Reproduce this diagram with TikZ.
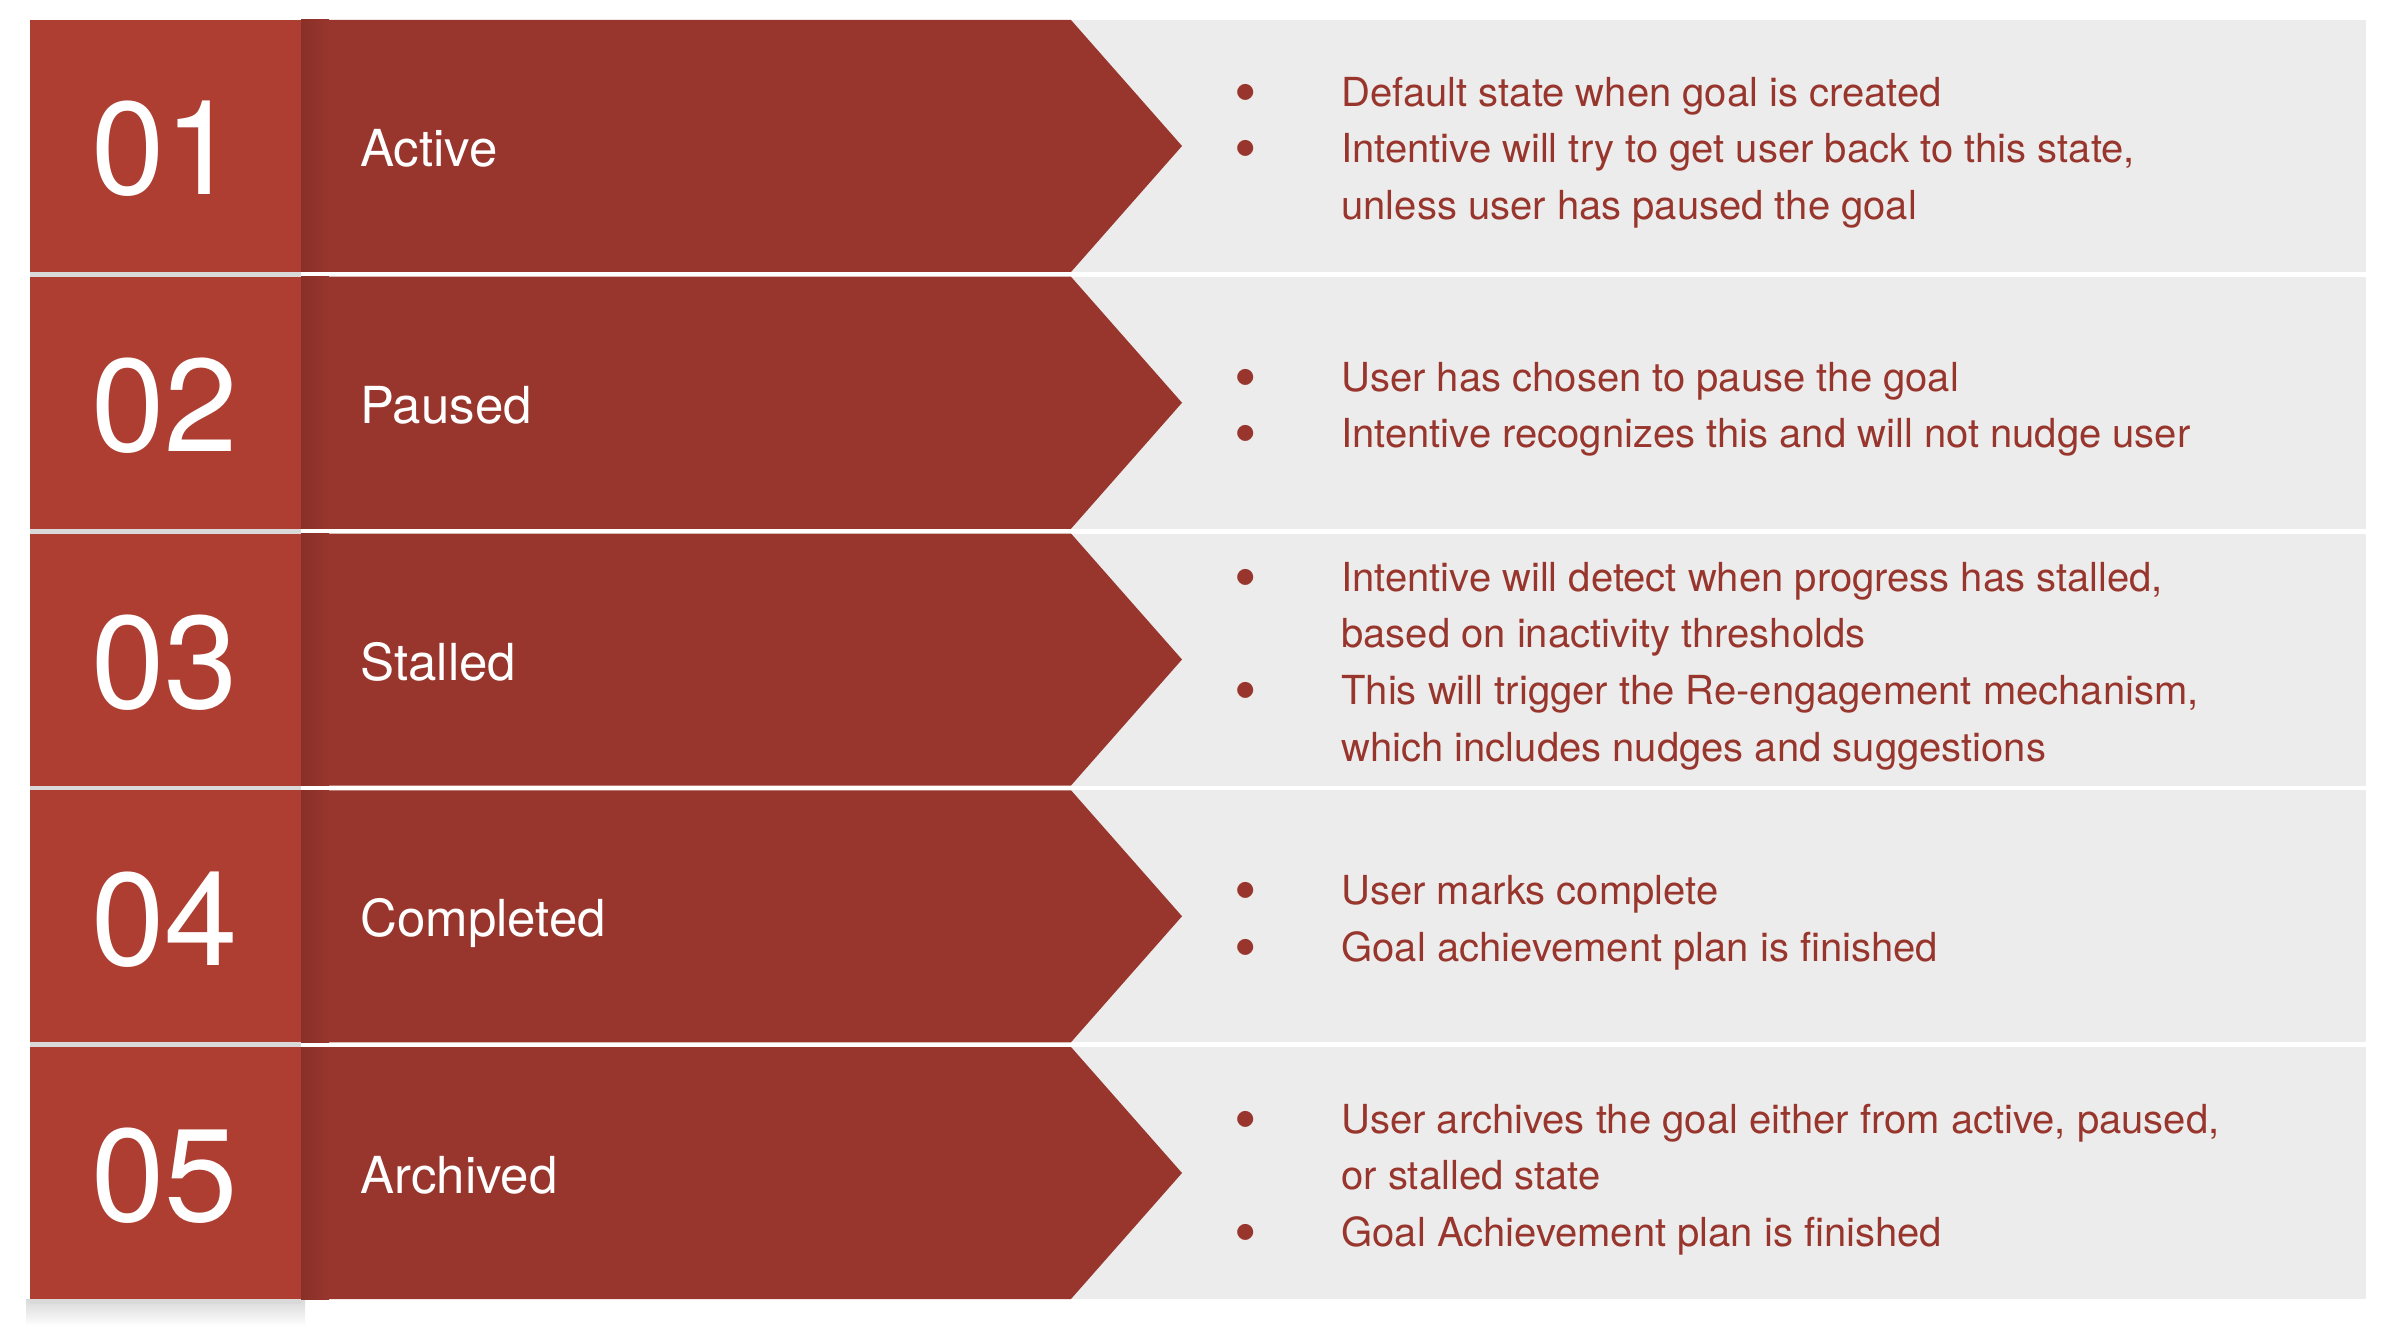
\documentclass[tikz,border=0pt]{standalone}
\usepackage{fontspec}
\setmainfont{TeX Gyre Heros}
\definecolor{numred}{RGB}{173,62,49}
\definecolor{chevred}{RGB}{152,54,45}
\definecolor{chevdark}{RGB}{136,48,40}
\definecolor{panel}{RGB}{236,236,236}
\newcommand\itm{\makebox[53.5pt][l]{\smash{\raisebox{-4pt}{\fontsize{32}{28}\selectfont\textbullet}}}}

\begin{document}
\begin{tikzpicture}[x=0.5pt,y=-0.5pt,
    numtext/.style={text=white,inner sep=0pt,font=\fontsize{66}{66}\selectfont},
    labtext/.style={text=white,inner sep=0pt,font=\fontsize{25.5}{30}\selectfont},
    desctext/.style={text=chevred,inner sep=0pt,font=\fontsize{20}{28.35}\selectfont}]
    \fill [white] (0,0) rectangle (2388,1326);
    \shade [top color=black!15,bottom color=white] (26,1299) rectangle (305,1326);

    \foreach \nr/\lab [count=\i from 0] in {01/Active,02/Paused,03/Stalled,04/Completed,05/Archived}{
        \pgfmathsetmacro\rowtop{20+256.75*\i}
        \fill [black!15] (30,\rowtop+252) rectangle ++(271,4.75);
        \fill [panel] (1071,\rowtop) rectangle ++(1295,252);
        \fill [numred] (30,\rowtop) rectangle ++(271,252);
        \fill [chevred] (301,\rowtop) -- ++(770,0) -- ++(111,126) -- ++(-111,126) -- ++(-770,0) -- cycle;
        \shade [left color=chevdark,right color=chevred] (301,\rowtop) rectangle ++(28,252);
        \node [numtext,anchor=west] (num\nr) at (91,\rowtop+129) {\nr};
        \node [labtext,anchor=base west] (lab\nr) at (360,\rowtop+146.7) {\lab};
    }

    \node [desctext,anchor=west] (desc01) at (1234,151.5) {\begin{tabular}{@{}l@{}l@{}}
        \itm & Default state when goal is created\\
        \itm & Intentive will try to get user back to this state,\\
             & unless user has paused the goal
    \end{tabular}};
    \node [desctext,anchor=west] (desc02) at (1234,408.25) {\begin{tabular}{@{}l@{}l@{}}
        \itm & User has chosen to pause the goal\\
        \itm & Intentive recognizes this and will not nudge user
    \end{tabular}};
    \node [desctext,anchor=west] (desc03) at (1234,665) {\begin{tabular}{@{}l@{}l@{}}
        \itm & Intentive will detect when progress has stalled,\\
             & based on inactivity thresholds\\
        \itm & This will trigger the Re-engagement mechanism,\\
             & which includes nudges and suggestions
    \end{tabular}};
    \node [desctext,anchor=west] (desc04) at (1234,921.75) {\begin{tabular}{@{}l@{}l@{}}
        \itm & User marks complete\\
        \itm & Goal achievement plan is finished
    \end{tabular}};
    \node [desctext,anchor=west] (desc05) at (1234,1178.5) {\begin{tabular}{@{}l@{}l@{}}
        \itm & User archives the goal either from active, paused,\\
             & or stalled state\\
        \itm & Goal Achievement plan is finished
    \end{tabular}};
\end{tikzpicture}
\end{document}
